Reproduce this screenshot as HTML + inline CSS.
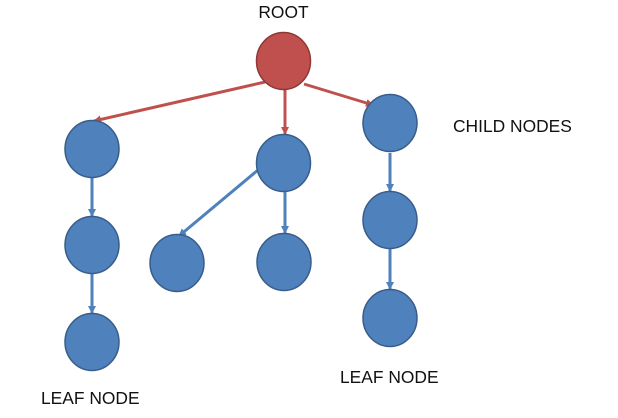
<!DOCTYPE html>
<html><head><style>
html,body{margin:0;padding:0;background:#fff;width:618px;height:418px;overflow:hidden}
text{font-family:"Liberation Sans",sans-serif;font-size:17.4px;fill:#111}
</style></head><body>
<svg width="618" height="418" viewBox="0 0 618 418">
<defs>
<marker id="ar" markerWidth="8" markerHeight="8" refX="7" refY="4" orient="auto" markerUnits="userSpaceOnUse"><path d="M0,0 L8,4 L0,8 z" fill="#c0504d"/></marker>
<marker id="ab" markerWidth="8" markerHeight="8" refX="7" refY="4" orient="auto" markerUnits="userSpaceOnUse"><path d="M0,0 L8,4 L0,8 z" fill="#4f81bd"/></marker>
</defs>
<g stroke-width="3" fill="none">
<line x1="265" y1="82" x2="94" y2="121" stroke="#c0504d" marker-end="url(#ar)"/>
<line x1="285" y1="90" x2="285" y2="134" stroke="#c0504d" marker-end="url(#ar)"/>
<line x1="304" y1="84" x2="373" y2="105" stroke="#c0504d" marker-end="url(#ar)"/>
<line x1="92" y1="178" x2="92" y2="216" stroke="#4f81bd" marker-end="url(#ab)"/>
<line x1="92" y1="274" x2="92" y2="313" stroke="#4f81bd" marker-end="url(#ab)"/>
<line x1="258" y1="170" x2="179" y2="236" stroke="#4f81bd" marker-end="url(#ab)"/>
<line x1="285" y1="192" x2="285" y2="233" stroke="#4f81bd" marker-end="url(#ab)"/>
<line x1="390" y1="153" x2="390" y2="191" stroke="#4f81bd" marker-end="url(#ab)"/>
<line x1="390" y1="249" x2="390" y2="289" stroke="#4f81bd" marker-end="url(#ab)"/>
</g>
<g stroke-width="1.5">
<ellipse cx="283.5" cy="61" rx="27" ry="28.5" fill="#c0504d" stroke="#8c3836"/>
<g fill="#4f81bd" stroke="#385d8a">
<ellipse cx="92" cy="149" rx="27" ry="28.5"/>
<ellipse cx="92" cy="245" rx="27" ry="28.5"/>
<ellipse cx="92" cy="342" rx="27" ry="28.5"/>
<ellipse cx="283.5" cy="163" rx="27" ry="28.5"/>
<ellipse cx="177" cy="263" rx="27" ry="28.5"/>
<ellipse cx="284" cy="262" rx="27" ry="28.5"/>
<ellipse cx="390" cy="123" rx="27" ry="28.5"/>
<ellipse cx="390" cy="220" rx="27" ry="28.5"/>
<ellipse cx="390" cy="318" rx="27" ry="28.5"/>
</g></g>
<text x="283.5" y="18" text-anchor="middle">ROOT</text>
<text x="453" y="132">CHILD NODES</text>
<text x="41" y="404">LEAF NODE</text>
<text x="340" y="383">LEAF NODE</text>
</svg>
</body></html>
